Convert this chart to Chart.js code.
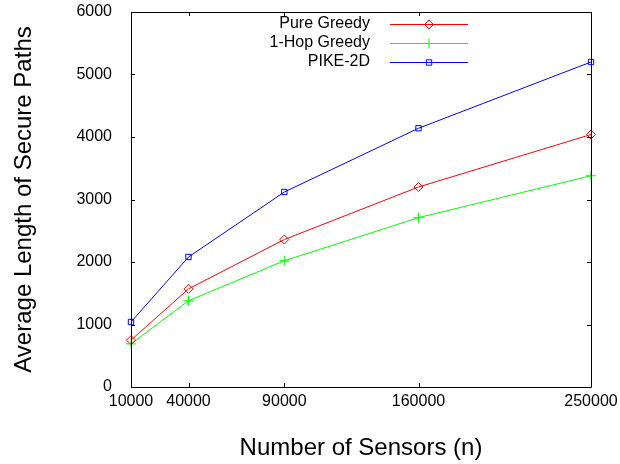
<!DOCTYPE html>
<html>
<head>
<meta charset="UTF-8">
<title>Average Length of Secure Paths</title>
<script src="https://cdn.jsdelivr.net/npm/chart.js"></script>
<style>
    html, body { margin: 0; padding: 0; background: #fff; }
    #wrap { width: 620px; height: 464px; }
</style>
</head>
<body>
<div id="wrap"><canvas id="chart"></canvas></div>
<script>
// data
const sensors = [10000, 40000, 90000, 160000, 250000];
const pureGreedy = [750, 1570, 2360, 3200, 4040];
const oneHopGreedy = [690, 1380, 2020, 2710, 3380];
const pike2D = [1040, 2080, 3120, 4140, 5200];
const yTicks = [0, 1000, 2000, 3000, 4000, 5000, 6000];

const FONT = 'Liberation Sans, Arial, Helvetica, sans-serif';

function toPoints(vals) {
    return sensors.map((x, i) => ({ x: x, y: vals[i] }));
}

// gnuplot style frame with inward ticks on all four sides
const framePlugin = {
    id: 'frame',
    afterDatasetsDraw(chart) {
        const ctx = chart.ctx, a = chart.chartArea;
        const xs = chart.scales.x, ys = chart.scales.y;
        const len = 4;
        ctx.save();
        ctx.strokeStyle = '#000';
        ctx.lineWidth = 1;
        ctx.beginPath();
        ctx.rect(Math.round(a.left) + 0.5, Math.round(a.top) + 0.5, Math.round(a.right - a.left), Math.round(a.bottom - a.top));
        sensors.forEach(v => {
            const px = Math.round(xs.getPixelForValue(v)) + 0.5;
            ctx.moveTo(px, a.bottom); ctx.lineTo(px, a.bottom - len);
            ctx.moveTo(px, a.top); ctx.lineTo(px, a.top + len);
        });
        yTicks.forEach(v => {
            const py = Math.round(ys.getPixelForValue(v)) + 0.5;
            ctx.moveTo(a.left, py); ctx.lineTo(a.left + len, py);
            ctx.moveTo(a.right, py); ctx.lineTo(a.right - len, py);
        });
        ctx.stroke();
        ctx.restore();
    }
};

// legend in the upper part: right aligned text, line sample with marker
const keyPlugin = {
    id: 'key',
    afterDraw(chart) {
        const ctx = chart.ctx;
        ctx.save();
        ctx.font = '16px ' + FONT;
        ctx.textAlign = 'right';
        ctx.textBaseline = 'middle';
        chart.data.datasets.forEach((ds, i) => {
            const y = 24 + i * 19;
            ctx.fillStyle = '#000';
            ctx.fillText(ds.label, 370, y);
            ctx.strokeStyle = ds.borderColor;
            ctx.lineWidth = 1;
            ctx.beginPath();
            ctx.moveTo(390, y + 0.5);
            ctx.lineTo(468, y + 0.5);
            ctx.stroke();
            ctx.fillStyle = 'rgba(0,0,0,0)';
            Chart.helpers.drawPoint(ctx, {
                pointStyle: ds.pointStyle,
                radius: ds.pointRadius,
                rotation: 0,
                borderWidth: 1
            }, 429, y + 0.5);
        });
        ctx.restore();
    }
};

const ctx = document.getElementById('chart').getContext('2d');
new Chart(ctx, {
    type: 'line',
    data: {
        datasets: [
            {
                label: 'Pure Greedy',
                data: toPoints(pureGreedy),
                borderColor: '#ff0000',
                pointStyle: 'rectRot',
                pointRadius: 4.5
            },
            {
                label: '1-Hop Greedy',
                data: toPoints(oneHopGreedy),
                borderColor: '#00ff00',
                pointStyle: 'cross',
                pointRadius: 5
            },
            {
                label: 'PIKE-2D',
                data: toPoints(pike2D),
                borderColor: '#0000ff',
                pointStyle: 'rect',
                pointRadius: 3.8
            }
        ].map(ds => Object.assign(ds, {
            borderWidth: 1,
            pointBorderWidth: 1,
            pointBackgroundColor: 'rgba(0,0,0,0)',
            pointBorderColor: ds.borderColor,
            tension: 0,
            clip: false
        }))
    },
    options: {
        responsive: true,
        maintainAspectRatio: false,
        animation: false,
        events: [],
        layout: { padding: { left: 0, right: 29, top: 12, bottom: 0 } },
        plugins: {
            legend: { display: false },
            tooltip: { enabled: false }
        },
        scales: {
            x: {
                type: 'linear',
                min: 10000,
                max: 250000,
                afterBuildTicks: s => { s.ticks = sensors.map(v => ({ value: v })); },
                afterFit: s => { s.height = 77; s.paddingLeft = 0; s.paddingRight = 0; },
                grid: { display: false, drawTicks: false },
                border: { display: false },
                ticks: {
                    color: '#000',
                    font: { family: FONT, size: 16 },
                    padding: 5,
                    maxRotation: 0,
                    autoSkip: false,
                    callback: v => String(v)
                },
                title: {
                    display: true,
                    text: 'Number of Sensors (n)',
                    color: '#000',
                    font: { family: FONT, size: 24 },
                    padding: { top: 0, bottom: 1 }
                }
            },
            y: {
                min: 0,
                max: 6000,
                afterBuildTicks: s => { s.ticks = yTicks.map(v => ({ value: v })); },
                afterFit: s => { s.width = 131; s.paddingTop = 0; s.paddingBottom = 0; },
                grid: { display: false, drawTicks: false },
                border: { display: false },
                ticks: {
                    color: '#000',
                    font: { family: FONT, size: 16 },
                    padding: 19,
                    callback: v => String(v)
                },
                title: {
                    display: true,
                    text: 'Average Length of Secure Paths',
                    color: '#000',
                    font: { family: FONT, size: 24 },
                    padding: { top: 10, bottom: 0 }
                }
            }
        }
    },
    plugins: [framePlugin, keyPlugin]
});
</script>
</body>
</html>
